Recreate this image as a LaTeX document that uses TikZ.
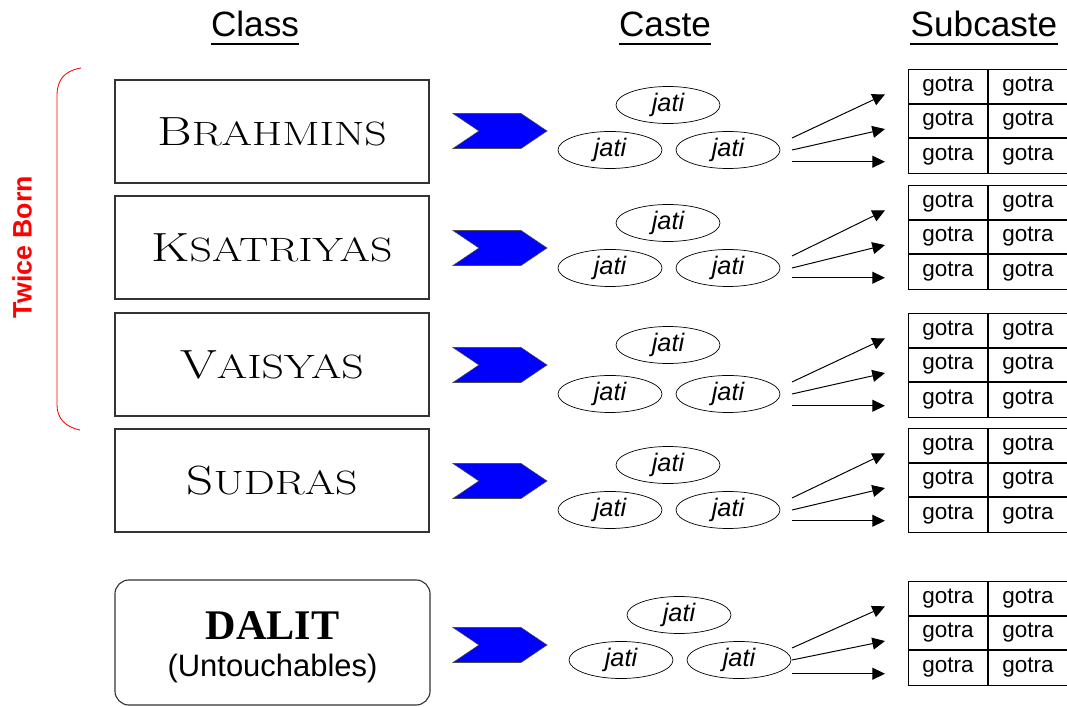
\documentclass[tikz,border=0pt]{standalone}
\usepackage{fontspec}
\setsansfont{Liberation Sans}
\newfontfamily\timesfont{Liberation Serif}
\usetikzlibrary{arrows.meta,calc,shapes.geometric,shapes.symbols}
\definecolor{bracered}{RGB}{255,0,0}
\definecolor{chevblue}{RGB}{0,0,255}
\definecolor{boxline}{RGB}{51,51,51}
\newcommand{\clsname}[2]{\scalebox{1.3}[1]{{\fontsize{29}{30}\selectfont #1}{\fontsize{24}{30}\selectfont #2}}}
\tikzset{
  hdr/.style={font=\sffamily\fontsize{25}{28}\selectfont, anchor=base, inner sep=0pt},
  ulin/.style={line width=1.4pt},
  clsbox/.style={draw=boxline, line width=0.8pt, minimum width=7.85cm,
                 minimum height=2.575cm, inner sep=0pt},
  dalitbox/.style={clsbox, rounded corners=10pt, minimum width=7.875cm,
                   minimum height=3.125cm, align=center, font=\fontsize{22}{26}\selectfont},
  chev/.style={signal, signal to=east, signal from=west, signal pointer angle=68,
               fill=chevblue, draw=black!70, line width=0.4pt,
               minimum width=2.35cm, minimum height=0.875cm, inner sep=0pt},
  jati/.style={ellipse, draw, line width=0.5pt, minimum width=2.6cm, minimum height=0.925cm,
               inner sep=0pt, font=\sffamily\itshape\fontsize{18}{20}\selectfont},
  gotrac/.style={draw, line width=0.6pt, minimum width=2cm, minimum height=0.8675cm,
                 inner sep=0pt, outer sep=0pt, font=\sffamily\fontsize{16}{18}\selectfont},
  linkarr/.style={-{Triangle[length=9pt,width=8.5pt]}, line width=0.7pt},
}
\begin{document}
\begin{tikzpicture}[x=0.025cm, y=-0.025cm]
  \useasboundingbox (0,0) rectangle (1067,707);
  \clip (0,0) rectangle (1067,707);
  % --- column heads
  \node[hdr] (cls) at (255,37) {Class};
  \node[hdr] (cst) at (665,37) {Caste};
  \node[hdr] (sub) at (984,37) {Subcaste};
  \foreach \h in {cls,cst,sub}{
    \draw[ulin] ([yshift=-5pt]\h.base west) -- ([yshift=-5pt]\h.base east);}
  % --- classes
  \node[clsbox] (brahmins)  at (272,131.5) {\clsname{B}{RAHMINS}};
  \node[clsbox] (ksatriyas) at (272,247.5) {\clsname{K}{SATRIYAS}};
  \node[clsbox] (vaisyas)   at (272,364.5) {\clsname{V}{AISYAS}};
  \node[clsbox] (sudras)    at (272,480.5) {\clsname{S}{UDRAS}};
  \node[dalitbox] (dalit) at (272.5,642.5)
       {{\timesfont\bfseries\fontsize{30}{26}\selectfont\rule{0pt}{27pt}DALIT}\\
        {\sffamily (Untouchables)}};
  % --- twice born brace
  \node[font=\sffamily\bfseries\fontsize{19}{22}\selectfont, text=bracered, rotate=90]
       (twice) at (22,247) {Twice Born};
  \draw[bracered, line width=0.6pt] (81,68) .. controls (64,71) and (57,80) .. (57,96)
       -- (57,405) .. controls (57,418) and (65,427) .. (80,430);
  % --- castes and subcastes
  \foreach \g/\cy/\dx/\jt/\jb/\tt in {b/131/0/105/150/69, k/248/0/223/268/185,
      v/365/0/345/394/313, s/481/0/465/510/428, d/645/11/615/660/581}{
    \node[chev] (\g-chev) at (500,\cy) {};
    \node[jati] (\g-j1) at (668+\dx,\jt) {jati};
    \node[jati] (\g-j2) at (610+\dx,\jb) {jati};
    \node[jati] (\g-j3) at (728+\dx,\jb) {jati};
    \foreach \r in {1,2,3}{
      \node[gotrac] (\g-\r a) at (948,\tt+17.35+34.7*\r-34.7) {gotra};
      \node[gotrac] (\g-\r b) at (1028,\tt+17.35+34.7*\r-34.7) {gotra};}
    \draw[line width=1.3pt] (\g-1a.north east) -- (\g-3a.south east);
    \draw[line width=1.3pt] (\g-1a.south west) -- (\g-1b.south east);
    \draw[line width=1.3pt] (\g-2a.south west) -- (\g-2b.south east);
    \coordinate (\g-o1) at (792,\jb-12);
    \coordinate (\g-o2) at (792,\jb);
    \coordinate (\g-o3) at (792,\tt+92.75);
    \draw[linkarr] (\g-o1) -- ($(\g-1a.west)+(-23,8)$);
    \draw[linkarr] (\g-o2) -- ($(\g-2a.west)+(-23,8)$);
    \draw[linkarr] (\g-o3) -- ($(\g-3a.west)+(-23,6)$);
  }
\end{tikzpicture}
\end{document}
